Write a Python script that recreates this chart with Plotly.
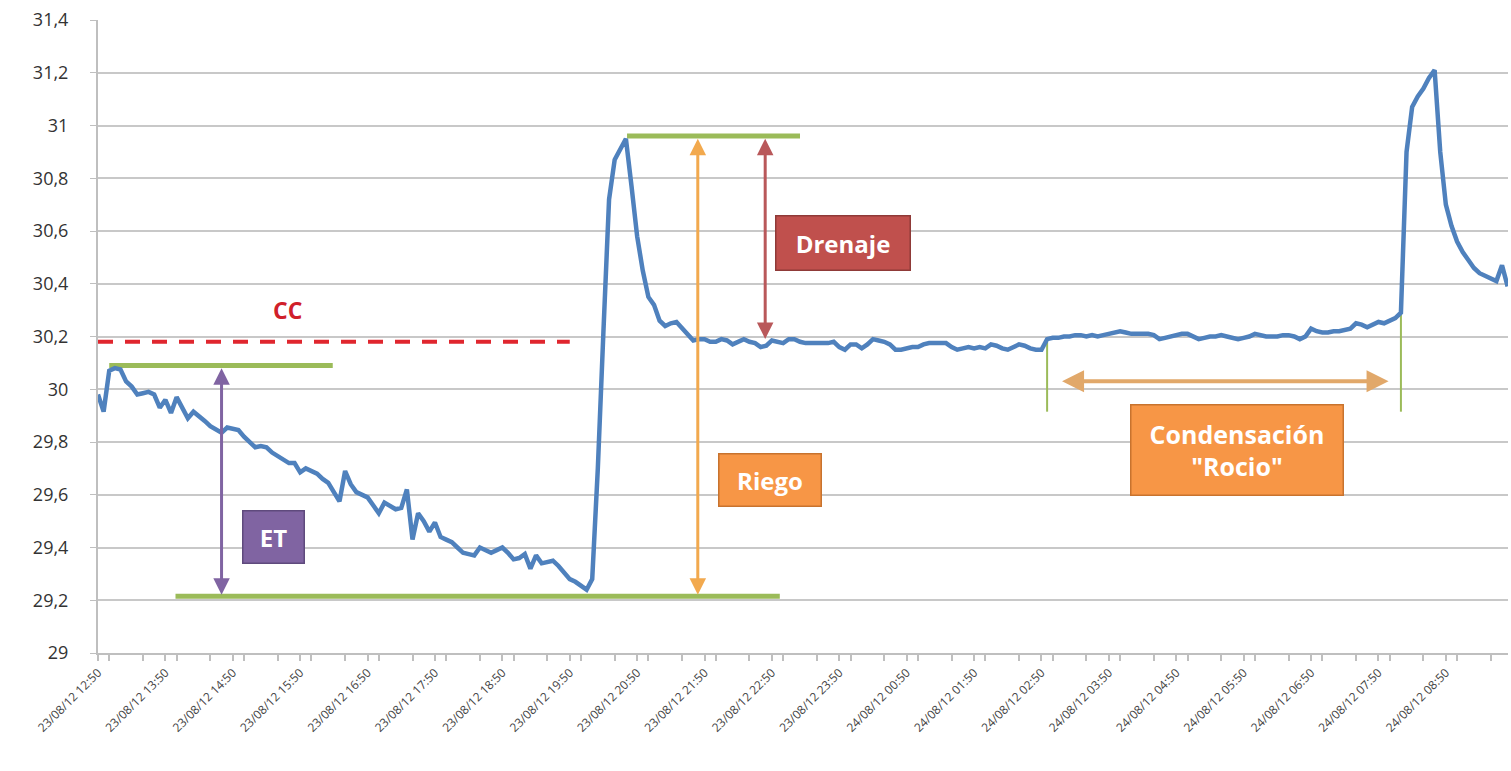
import pandas as pd
import plotly.graph_objects as go

# ---------------- data ----------------
start_time = "2012-08-23 12:50"
sample_freq = "5min"

# soil moisture readings, one row per hour (12 readings every 5 minutes), starting 23/08/12 12:50
humedad = [
    29.98, 29.915, 30.07, 30.08, 30.075, 30.03, 30.01, 29.98, 29.985, 29.99, 29.98, 29.93,   # 12:50
    29.96, 29.91, 29.97, 29.93, 29.89, 29.915, 29.90, 29.88, 29.86, 29.845, 29.835, 29.855,  # 13:50
    29.85, 29.845, 29.82, 29.80, 29.78, 29.785, 29.78, 29.76, 29.745, 29.735, 29.72, 29.72,  # 14:50
    29.685, 29.70, 29.69, 29.68, 29.66, 29.645, 29.61, 29.575, 29.69, 29.64, 29.61, 29.60,   # 15:50
    29.59, 29.56, 29.53, 29.57, 29.555, 29.545, 29.55, 29.62, 29.43, 29.53, 29.50, 29.46,    # 16:50
    29.495, 29.44, 29.43, 29.42, 29.40, 29.38, 29.375, 29.37, 29.40, 29.39, 29.38, 29.39,    # 17:50
    29.40, 29.38, 29.355, 29.36, 29.375, 29.32, 29.37, 29.34, 29.345, 29.35, 29.33, 29.305,  # 18:50
    29.28, 29.27, 29.255, 29.24, 29.28, 29.70, 30.22, 30.72, 30.87, 30.91, 30.95, 30.77,     # 19:50
    30.58, 30.45, 30.35, 30.32, 30.26, 30.24, 30.25, 30.255, 30.23, 30.21, 30.185, 30.19,    # 20:50
    30.19, 30.18, 30.18, 30.19, 30.185, 30.17, 30.18, 30.19, 30.18, 30.175, 30.16, 30.165,   # 21:50
    30.185, 30.18, 30.175, 30.19, 30.19, 30.18, 30.175, 30.175, 30.175, 30.175, 30.175, 30.18,  # 22:50
    30.16, 30.15, 30.17, 30.17, 30.155, 30.17, 30.19, 30.185, 30.18, 30.17, 30.15, 30.15,    # 23:50
    30.155, 30.16, 30.16, 30.17, 30.175, 30.175, 30.175, 30.175, 30.16, 30.15, 30.155, 30.16,  # 00:50
    30.155, 30.16, 30.155, 30.17, 30.165, 30.155, 30.15, 30.16, 30.17, 30.165, 30.155, 30.15,  # 01:50
    30.15, 30.19, 30.195, 30.195, 30.20, 30.20, 30.205, 30.205, 30.20, 30.205, 30.20, 30.205,  # 02:50
    30.21, 30.215, 30.22, 30.215, 30.21, 30.21, 30.21, 30.21, 30.205, 30.19, 30.195, 30.20,    # 03:50
    30.205, 30.21, 30.21, 30.20, 30.19, 30.195, 30.20, 30.20, 30.205, 30.20, 30.195, 30.19,    # 04:50
    30.195, 30.20, 30.21, 30.205, 30.20, 30.20, 30.20, 30.205, 30.205, 30.20, 30.19, 30.20,    # 05:50
    30.23, 30.22, 30.215, 30.215, 30.22, 30.22, 30.225, 30.23, 30.25, 30.245, 30.235, 30.245,  # 06:50
    30.255, 30.25, 30.26, 30.27, 30.29, 30.90, 31.07, 31.11, 31.14, 31.18, 31.21, 30.90,       # 07:50
    30.70, 30.62, 30.56, 30.52, 30.49, 30.46, 30.44, 30.43, 30.42, 30.41, 30.47, 30.39,        # 08:50
]

y_tick_vals = [29, 29.2, 29.4, 29.6, 29.8, 30, 30.2, 30.4, 30.6, 30.8, 31, 31.2, 31.4]
y_tick_text = ["29", "29,2", "29,4", "29,6", "29,8", "30", "30,2", "30,4", "30,6", "30,8", "31", "31,2", "31,4"]

# annotation reference values
cc_level = 30.18
et_top = 30.09
et_bottom = 29.215
riego_top = 30.96
drenaje_bottom = 30.185
rocio_start_level = 30.19
rocio_end_level = 30.29
rocio_marker_bottom = 29.915
rocio_arrow_level = 30.03

labels = {"cc": "CC", "et": "ET", "riego": "Riego", "drenaje": "Drenaje",
          "rocio": "Condensación<br>\"Rocio\""}

# ---------------- figure ----------------
times = pd.date_range(start_time, periods=len(humedad), freq=sample_freq)
T = lambda s: pd.Timestamp(s)

fig = go.Figure()

def seg(x0, x1, y0, y1, color, width, dash=None):
    fig.add_trace(go.Scatter(x=[T(x0), T(x1)], y=[y0, y1], mode="lines",
                             line=dict(color=color, width=width, dash=dash),
                             hoverinfo="skip", showlegend=False))

# CC dashed line
seg("2012-08-23 12:50", "2012-08-23 19:50", cc_level, cc_level, "#e0262e", 4, "15px,12px")
# green reference lines
seg("2012-08-23 13:00", "2012-08-23 16:19", et_top, et_top, "#9bbb59", 5)
seg("2012-08-23 13:59", "2012-08-23 22:57", et_bottom, et_bottom, "#9bbb59", 5)
seg("2012-08-23 20:41", "2012-08-23 23:15", riego_top, riego_top, "#9bbb59", 5)
seg("2012-08-24 02:55", "2012-08-24 02:55", rocio_start_level, rocio_marker_bottom, "#9bbb59", 2)
seg("2012-08-24 08:10", "2012-08-24 08:10", rocio_end_level, rocio_marker_bottom, "#9bbb59", 2)

# main series
fig.add_trace(go.Scatter(x=times, y=humedad, mode="lines",
                         line=dict(color="#4f81bd", width=4.5),
                         showlegend=False))

def arrow(x0, y0, x1, y1, color, width=3):
    fig.add_annotation(x=T(x1), y=y1, ax=T(x0), ay=y0, xref="x", yref="y",
                       axref="x", ayref="y", text="", showarrow=True,
                       arrowhead=2, arrowsize=1.1, arrowwidth=width,
                       arrowcolor=color, arrowside="end+start",
                       startarrowhead=2, startarrowsize=1.1)

arrow("2012-08-23 14:40", et_bottom, "2012-08-23 14:40", et_top - 0.01, "#8064a2")
arrow("2012-08-23 21:44", et_bottom, "2012-08-23 21:44", riego_top - 0.01, "#f2a94e")
arrow("2012-08-23 22:44", drenaje_bottom, "2012-08-23 22:44", riego_top - 0.01, "#b9585a")
arrow("2012-08-24 03:07", rocio_arrow_level, "2012-08-24 07:59", rocio_arrow_level, "#e1a86a", 4)

def box(x, y, text, bg, border, w, h, size=24):
    fig.add_annotation(x=T(x), y=y, xref="x", yref="y", text="<b>" + text + "</b>",
                       showarrow=False, bgcolor=bg, bordercolor=border,
                       borderwidth=1.5, borderpad=1, width=w, height=h,
                       font=dict(family="Open Sans", size=size, color="white"))

box("2012-08-23 15:26", 29.44, labels["et"], "#8064a2", "#5f4a7d", 58, 49)
box("2012-08-23 22:48", 29.655, labels["riego"], "#f79646", "#c8732e", 99, 49)
box("2012-08-23 23:53", 30.555, labels["drenaje"], "#c0504d", "#8f3a38", 131, 51)
box("2012-08-24 05:44", 29.77, labels["rocio"], "#f79646", "#c8732e", 209, 87, 25)

fig.add_annotation(x=T("2012-08-23 15:39"), y=30.30, xref="x", yref="y",
                   text="<b>" + labels["cc"] + "</b>", showarrow=False,
                   font=dict(family="Open Sans", size=23, color="#d0202a"))

fig.update_layout(
    width=1511, height=771,
    margin=dict(l=98, r=3, t=20, b=118),
    paper_bgcolor="white", plot_bgcolor="white",
    font=dict(family="Open Sans"),
    showlegend=False,
)
fig.update_xaxes(
    type="date", automargin=False,
    range=[T("2012-08-23 12:50"), T("2012-08-24 09:45:20")],
    tick0=T("2012-08-23 12:50"), dtick=3600000,
    tickformat="%d/%m/%y %H:%M", tickangle=-45,
    tickfont=dict(size=12, color="#444444"),
    showgrid=False, showline=True, linecolor="#bfbfbf", linewidth=2,
    ticks="outside", ticklen=6, tickcolor="#bfbfbf", tickwidth=1.5,
    minor=dict(ticks="outside", dtick=1800000, ticklen=6, tickcolor="#bfbfbf", tickwidth=1.5),
    zeroline=False, ticklabeloverflow="allow",
)
fig.update_yaxes(
    automargin=False,
    range=[29, 31.4], tickvals=y_tick_vals, ticktext=y_tick_text,
    tickfont=dict(size=18, color="#333333"),
    showgrid=True, gridcolor="#c8c8c8", gridwidth=1.5,
    showline=True, linecolor="#bfbfbf", linewidth=2,
    ticks="outside", ticklen=6, tickcolor="#bfbfbf",
    ticklabelstandoff=18, zeroline=False, ticklabeloverflow="allow",
)

# remove the browser's default 8px page margin so the figure fills the window exactly
fig.write_html("out.html", config={"displayModeBar": False},
               post_script="document.body.style.margin='0';document.body.style.overflow='hidden';")
